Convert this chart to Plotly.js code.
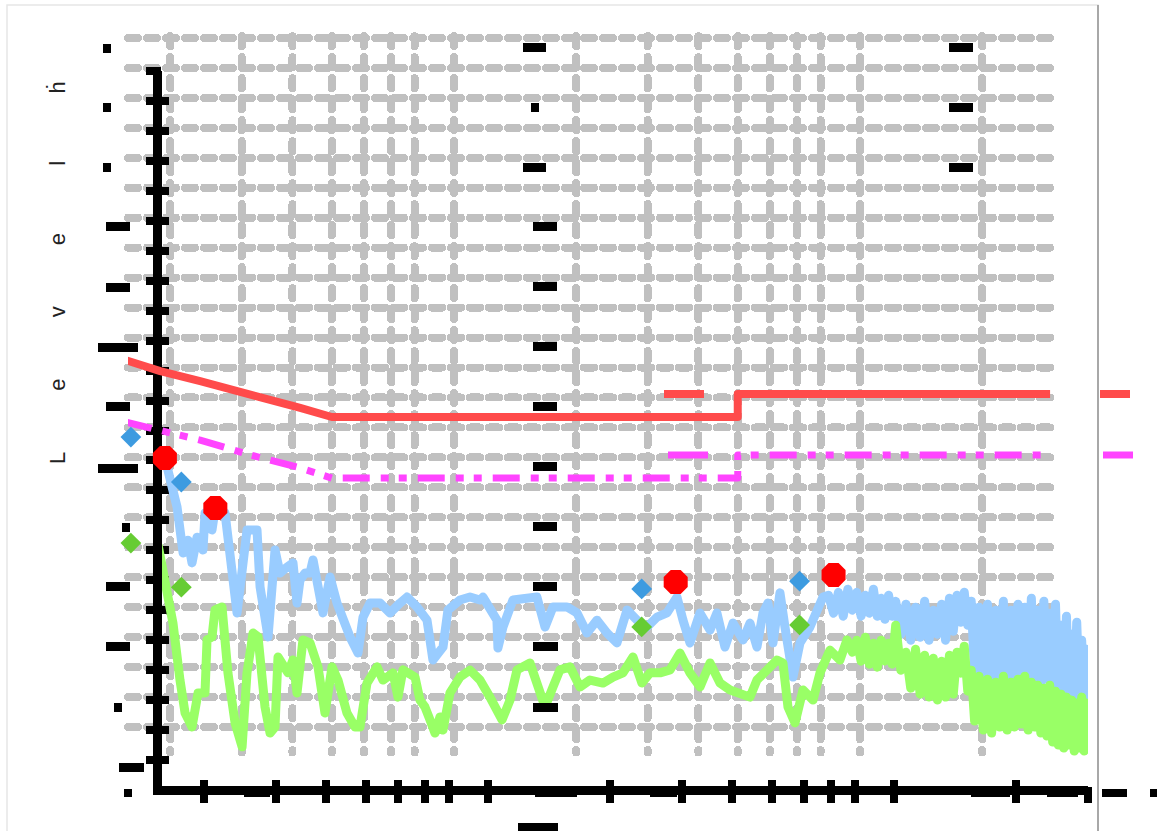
<!DOCTYPE html>
<html>
<head>
<meta charset="utf-8">
<script src="https://cdn.plot.ly/plotly-3.0.1.min.js"></script>
<style>
  html, body { margin: 0; padding: 0; background: #ffffff; }
  #chart { width: 1157px; height: 831px; }
  .xgrid, .ygrid { stroke-linecap: round; }
  .js-line { stroke-linejoin: round; }
</style>
</head>
<body>
<div id="chart"></div>
<script>
// ---------------- data ----------------
const axisTitle = "Level ḣ";
const xTickVals = [0.2, 0.3, 0.4, 0.5, 0.6, 0.7, 0.8, 1, 2, 3, 4, 5, 6, 7, 8, 10, 20, 30];
const yTickLabels = ["24", "22", "20", "18", "16", "14", "12", "10", "8", "6", "4", "2", "0", "0"];

// time axis (log) and level values
const blueTime = [0.160, 0.1647, 0.1714, 0.1774, 0.1824, 0.1866, 0.1920, 0.1986, 0.2009, 0.2090, 0.2126, 0.2250,
  0.2409, 0.2549, 0.2698, 0.2745, 0.2872, 0.2988, 0.3074, 0.3198, 0.3309, 0.3385, 0.3443, 0.3542, 0.3644, 0.3707,
  0.3792, 0.3923, 0.4081, 0.4247, 0.4572, 0.4784, 0.4922, 0.5122, 0.5420, 0.5737, 0.6071, 0.6318, 0.6686, 0.7076,
  0.7319, 0.7748, 0.7970, 0.8531, 0.9030, 0.9556,
  0.972, 1.052, 1.058, 1.089, 1.152, 1.248, 1.320, 1.382, 1.446, 1.565, 1.657, 1.753, 1.856, 1.964, 2.078, 2.200,
  2.328, 2.464, 2.608, 2.760, 2.921, 3.022, 3.145, 3.328, 3.523, 3.664, 3.834, 4.013, 4.247, 4.419, 4.598, 4.757,
  4.894, 5.035, 5.239, 5.389, 5.639, 5.869, 6.210, 6.686,
  6.9, 7.1, 7.3, 7.5, 7.7, 7.9, 8.1, 8.3, 8.5, 8.7, 8.9, 9.1, 9.3, 9.5, 9.7, 9.9, 10.1, 10.4, 10.7, 11.0, 11.3,
  11.6, 11.9, 12.2, 12.5, 12.8, 13.1, 13.4, 13.7, 14.0, 14.3, 14.6, 14.9, 15.2, 15.5, 15.8, 16.2, 16.6, 17.0, 17.4,
  17.8, 18.2, 18.6, 19.0, 19.4, 19.8, 20.2, 20.6, 21.0, 21.4, 21.8, 22.2, 22.6, 23.0, 23.4, 23.8, 24.2, 24.6, 25.0,
  25.4, 25.8, 26.2, 26.6, 27.0, 27.4, 27.8, 28.2, 28.6, 29.0, 29.4, 29.8, 30.0];
const blueLevel = [11.08, 10.25, 9.45, 7.91, 8.34, 7.58, 8.44, 8.01, 9.25, 8.68, 9.35, 9.25,
  5.91, 8.68, 8.68, 6.78, 5.11, 8.01, 7.24, 7.44, 7.58, 6.24, 7.01, 7.24, 7.24, 7.68,
  7.01, 5.91, 7.11, 6.24, 5.11, 4.57, 5.77, 6.24, 6.24, 5.91, 6.24, 6.44, 6.11, 5.67,
  4.34, 4.77, 6.01, 6.34, 6.44, 6.34,
  6.44, 5.67, 4.74, 5.44, 6.34, 6.44, 6.44, 5.44, 6.11, 6.11, 5.91, 5.24, 5.67, 5.24, 4.91, 6.01,
  5.67, 5.44, 5.77, 5.91, 6.44, 5.67, 4.91, 5.91, 5.34, 5.91, 4.77, 5.57, 5.01, 5.57, 4.77, 5.91,
  6.24, 4.91, 6.58, 5.44, 3.77, 4.91, 5.44, 6.44,
  6.5, 5.9, 6.6, 5.8, 6.7, 6.0, 6.6, 5.8, 6.5, 5.9, 6.7, 5.8, 6.4, 5.7, 6.5, 5.8, 6.3, 5.2, 6.2, 5.0, 6.1,
  5.1, 6.3, 5.0, 6.0, 5.2, 6.2, 5.0, 6.4, 5.3, 6.5, 5.6, 6.6, 5.5, 6.3, 3.9, 6.1, 3.7, 6.2, 3.8,
  6.0, 3.6, 6.3, 3.7, 6.0, 3.6, 6.2, 3.8, 6.1, 3.6, 6.4, 3.7, 6.0, 3.6, 6.3, 3.7, 5.9, 3.5, 6.2,
  3.1, 5.5, 3.0, 5.8, 3.1, 5.2, 3.0, 5.6, 3.2, 5.0, 3.0, 4.7, 3.4];

const greenTime = [0.1539, 0.1620, 0.1675, 0.1743, 0.1794, 0.1866, 0.1898, 0.1931, 0.2009, 0.2032, 0.2090, 0.2126,
  0.2212, 0.2288, 0.2382, 0.2479, 0.2549, 0.2638, 0.2714, 0.2823, 0.2905, 0.2988, 0.3039, 0.3127, 0.3217, 0.3309,
  0.3385, 0.3501, 0.3644, 0.3813, 0.3967, 0.4128, 0.4270, 0.4494, 0.4703, 0.4838, 0.5035, 0.5329, 0.5513, 0.5834,
  0.6001, 0.6173, 0.6610, 0.6800, 0.6996, 0.7197, 0.7404, 0.7617, 0.7748, 0.8060, 0.8531, 0.9030, 0.9556,
  1.011, 1.083, 1.133, 1.179, 1.269, 1.328, 1.382, 1.446, 1.504, 1.592, 1.685, 1.783, 1.920, 2.032, 2.150, 2.276,
  2.394, 2.506, 2.652, 2.808, 2.971, 3.145, 3.328, 3.523, 3.728, 3.946, 4.176, 4.419, 4.598, 4.867, 5.151, 5.328,
  5.482, 5.705, 5.970, 6.318, 6.574, 6.957, 7.362, 7.660,
  7.9, 8.1, 8.3, 8.5, 8.7, 8.9, 9.1, 9.3, 9.5, 9.7, 9.9, 10.1, 10.4, 10.7, 11.0, 11.3, 11.6, 11.9, 12.2, 12.5,
  12.8, 13.1, 13.4, 13.7, 14.0, 14.3, 14.6, 14.9, 15.2, 15.5, 15.8, 16.2, 16.6, 17.0, 17.4, 17.8, 18.2, 18.6,
  19.0, 19.4, 19.8, 20.2, 20.6, 21.0, 21.4, 21.8, 22.2, 22.6, 23.0, 23.4, 23.8, 24.2, 24.6, 25.0, 25.4, 25.8,
  26.2, 26.6, 27.0, 27.4, 27.8, 28.2, 28.6, 29.0, 29.4, 29.8, 30.0];
const greenLevel = [8.18, 6.68, 5.57, 3.67, 2.57, 2.10, 3.00, 3.24, 3.24, 5.01, 5.11, 6.01,
  6.11, 3.91, 2.24, 1.44, 3.91, 5.24, 5.11, 2.77, 1.90, 2.10, 4.44, 4.11, 3.91, 4.34,
  3.24, 5.01, 4.91, 4.11, 2.57, 4.11, 3.67, 2.57, 2.10, 2.10, 3.57, 4.11, 3.67, 3.91,
  3.10, 4.01, 3.77, 3.00, 2.77, 2.34, 1.90, 2.44, 2.00, 3.24, 3.77, 4.00, 3.67,
  3.10, 2.34, 3.00, 4.01, 4.24, 3.44, 2.77, 3.44, 4.01, 4.11, 3.44, 3.67, 3.57, 3.77, 3.91, 4.44,
  3.57, 3.91, 3.91, 4.01, 4.57, 3.91, 3.44, 4.24, 3.57, 3.34, 3.24, 3.10, 3.67, 4.01, 4.34, 4.24,
  2.77, 2.24, 3.34, 3.00, 3.91, 4.67, 4.34, 5.01,
  4.6, 5.0, 4.3, 5.1, 4.2, 4.9, 4.1, 5.0, 4.3, 4.9, 4.2, 5.5, 4.0, 4.6, 3.4, 4.7, 3.2, 4.5, 3.1, 4.4,
  3.0, 4.3, 3.1, 4.5, 3.2, 4.6, 3.9, 4.8, 3.3, 4.0, 2.3, 3.8, 2.0, 3.7, 1.9, 3.6, 2.1, 3.8,
  2.0, 3.6, 2.1, 3.7, 2.2, 3.8, 2.0, 3.6, 2.1, 3.5, 1.9, 3.4, 1.8, 3.5, 1.6, 3.3, 1.5, 3.2,
  1.4, 3.1, 1.5, 3.0, 1.3, 2.9, 1.4, 3.1, 1.3, 2.9, 1.6];

const upperTime = [0.155, 0.189, 0.237, 0.315, 0.418, 0.5, 5, 5, 29.4];
const upperLevel = [13.25, 12.88, 12.55, 12.12, 11.65, 11.35, 11.35, 12.12, 12.12];
const lowerTime = [0.155, 0.237, 0.315, 0.418, 0.5, 5, 5, 28.6];
const lowerLevel = [11.18, 10.58, 10.08, 9.65, 9.31, 9.31, 10.08, 10.08];

const eventTime = [0.16, 0.213, 2.9, 7.1];
const peakLevel = [11.08, 9.41, 6.94, 7.18];
const blueMarkLevel = [10.68, 9.18, 5.61, 5.87];
const greenMarkLevel = [7.14, 5.67, 4.34, 4.41];

// ---------------- layout helpers ----------------
const W = 1157, H = 831;
const fx = p => p / W;
const fy = p => 1 - p / H;
const xRange = [-0.803, 1.478];
const yRange = [0.15, 24];
const gridYRange = [0.15, 24.06];

const traces = [
  {type: 'scatter', x: [], y: [], xaxis: 'x', yaxis: 'y', mode: 'lines', hoverinfo: 'skip'},
  {type: 'scatter', x: blueTime, y: blueLevel, xaxis: 'x2', yaxis: 'y2', mode: 'lines',
   line: {color: '#99ccff', width: 9}, cliponaxis: false},
  {type: 'scatter', x: greenTime, y: greenLevel, xaxis: 'x2', yaxis: 'y2', mode: 'lines',
   line: {color: '#99ff66', width: 9}, cliponaxis: false},
  {type: 'scatter', x: eventTime, y: peakLevel, xaxis: 'x2', yaxis: 'y2', mode: 'markers',
   marker: {symbol: 'octagon', size: 26, color: '#ff0000'}, cliponaxis: false},
  {type: 'scatter', x: [], y: [], xaxis: 'x4', yaxis: 'y4', mode: 'lines', hoverinfo: 'skip'},
  {type: 'scatter', x: upperTime, y: upperLevel, xaxis: 'x3', yaxis: 'y3', mode: 'lines',
   line: {color: '#ff4b4b', width: 8}, cliponaxis: false},
  {type: 'scatter', x: lowerTime, y: lowerLevel, xaxis: 'x3', yaxis: 'y3', mode: 'lines',
   line: {color: '#ff44ff', width: 7, dash: '27px,11px,8px,10px,8px,11px'}, cliponaxis: false},
  {type: 'scatter', x: eventTime, y: blueMarkLevel, xaxis: 'x3', yaxis: 'y3', mode: 'markers',
   marker: {symbol: 'diamond', size: 16, color: '#3d9be0'}, cliponaxis: false},
  {type: 'scatter', x: eventTime, y: greenMarkLevel, xaxis: 'x3', yaxis: 'y3', mode: 'markers',
   marker: {symbol: 'diamond', size: 16, color: '#66cc33'}, cliponaxis: false}
];

// grid frame: same scale as the axes frame, shifted 34 px left and 33 px up
const gridTopPx = 38 - (gridYRange[1] - yRange[1]) * 29.96;
const gridDom = {x: [fx(128), fx(1054)], y: [fy(752.5), fy(gridTopPx)]};
const axDom = {x: [fx(162), fx(1088)], y: [fy(785.5), fy(71)]};
const hidden = {showgrid: false, zeroline: false, showline: false, ticks: '', showticklabels: false};

const layout = {
  width: W, height: H,
  margin: {l: 0, r: 0, t: 0, b: 0, pad: 0},
  paper_bgcolor: '#ffffff',
  plot_bgcolor: 'rgba(0,0,0,0)',
  showlegend: false,
  font: {family: 'Liberation Sans, Arial, sans-serif', color: '#222'},
  xaxis: {type: 'log', range: xRange, domain: gridDom.x, anchor: 'y', tickmode: 'array', tickvals: xTickVals,
    showgrid: true, gridcolor: '#c0c0c0', gridwidth: 8, griddash: '10px,11px',
    zeroline: false, showline: false, ticks: '', showticklabels: false},
  yaxis: {range: gridYRange, domain: gridDom.y, anchor: 'x', tickmode: 'linear', tick0: 0, dtick: 1,
    showgrid: true, gridcolor: '#c0c0c0', gridwidth: 8, griddash: '10px,9px',
    zeroline: false, showline: false, ticks: '', showticklabels: false},
  xaxis2: {type: 'log', range: xRange, domain: axDom.x, anchor: 'y2', tickmode: 'array', tickvals: xTickVals,
    showline: true, linecolor: '#000', linewidth: 9, ticks: 'inside', ticklen: 6, tickwidth: 8, tickcolor: '#000',
    showgrid: false, zeroline: false, showticklabels: false, layer: 'below traces'},
  yaxis2: {range: yRange, domain: axDom.y, anchor: 'x2', tickmode: 'linear', tick0: 0, dtick: 1,
    showline: true, linecolor: '#000', linewidth: 9, ticks: 'inside', ticklen: 7, tickwidth: 8, tickcolor: '#000',
    showgrid: false, zeroline: false, showticklabels: false, layer: 'below traces'},
  xaxis3: Object.assign({type: 'log', range: xRange, domain: gridDom.x, anchor: 'y3'}, hidden),
  yaxis3: Object.assign({range: gridYRange, domain: gridDom.y, anchor: 'x3'}, hidden),
  xaxis4: {type: 'log', range: xRange, overlaying: 'x2', anchor: 'y4', tickmode: 'array', tickvals: xTickVals,
    showline: false, ticks: 'outside', ticklen: 16, tickwidth: 8, tickcolor: '#000',
    showgrid: false, zeroline: false, showticklabels: false, layer: 'below traces'},
  yaxis4: {range: yRange, overlaying: 'y2', anchor: 'x4', tickmode: 'linear', tick0: 0, dtick: 1,
    showline: false, ticks: 'outside', ticklen: 15, tickwidth: 8, tickcolor: '#000',
    showgrid: false, zeroline: false, showticklabels: false, layer: 'below traces'},
  shapes: [],
  annotations: []
};

// frame
layout.shapes.push({type: 'rect', xref: 'paper', yref: 'paper', x0: fx(7), x1: fx(1098), y0: fy(845), y1: fy(5),
  line: {color: '#e6e6e6', width: 1.5}, layer: 'below'});
layout.shapes.push({type: 'line', xref: 'paper', yref: 'paper', x0: fx(1098), x1: fx(1098), y0: fy(831), y1: fy(5),
  line: {color: '#a8a8a8', width: 2}});
// legend-like keys
[[664, 704, 394, '#ff4b4b', 8], [1100, 1130, 394, '#ff4b4b', 8],
 [668, 708, 455, '#ff44ff', 7], [1103, 1133, 455, '#ff44ff', 7]].forEach(k => {
  layout.shapes.push({type: 'line', xref: 'paper', yref: 'paper', x0: fx(k[0]), x1: fx(k[1]), y0: fy(k[2]), y1: fy(k[2]),
    line: {color: k[3], width: k[4]}});
});

// garbled (blacked-out) label boxes
const boxes = [
  [103, 44, 8, 9], [103, 103, 8, 9], [103, 163, 8, 9], [106, 222, 24, 9], [106, 283, 24, 9], [98, 343, 40, 9],
  [106, 402, 24, 9], [98, 464, 40, 9], [122, 523, 8, 9], [106, 582, 24, 9], [106, 642, 24, 9], [114, 703, 8, 9],
  [119, 763, 25, 9], [124, 789, 8, 8],
  [523, 43, 23, 9], [531, 103, 8, 9], [523, 163, 23, 9], [533, 222, 24, 9], [533, 282, 24, 9], [533, 342, 24, 9],
  [533, 402, 24, 9], [533, 462, 24, 9], [533, 522, 24, 9], [533, 582, 24, 9], [533, 642, 25, 9], [533, 703, 25, 9],
  [949, 43, 24, 9], [949, 103, 24, 9], [949, 163, 24, 9],
  [518, 823, 40, 9], [1102, 789, 25, 8], [1150, 789, 8, 8],
  [244, 790, 26, 7], [535, 790, 42, 7], [650, 790, 27, 7], [971, 790, 39, 7], [1047, 790, 31, 7]
];
boxes.forEach((b, i) => {
  layout.annotations.push({xref: 'paper', yref: 'paper', x: fx(b[0]), y: fy(b[1]), xanchor: 'left', yanchor: 'top',
    width: b[2], height: b[3], text: yTickLabels[i % yTickLabels.length], showarrow: false,
    bgcolor: '#000', borderpad: 0, borderwidth: 0, font: {size: 6, color: '#000'}});
});

// axis title, letter-spaced as in the picture
const sp = n => '\u00a0'.repeat(n);
const chars = Array.from(axisTitle.replace(' ', ''));
const spaced = chars.map((c, i) => c + (i < chars.length - 1 ? sp(i >= 3 ? 11 : 10) : '')).join('');
layout.annotations.push({xref: 'paper', yref: 'paper', x: fx(57), y: fy(273), xanchor: 'center', yanchor: 'middle',
  text: spaced, textangle: -90, showarrow: false, font: {size: 22, color: '#222', family: 'Liberation Sans, Arial, sans-serif'}});

Plotly.newPlot('chart', traces, layout, {displayModeBar: false, staticPlot: true});
</script>
</body>
</html>
